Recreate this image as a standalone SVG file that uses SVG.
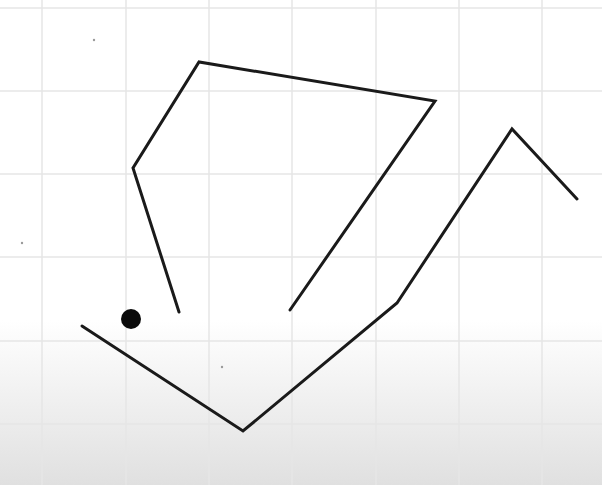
<svg xmlns="http://www.w3.org/2000/svg" width="602" height="485" viewBox="0 0 602 485">
  <defs>
    <linearGradient id="bg" x1="0" y1="0" x2="0" y2="485" gradientUnits="userSpaceOnUse">
      <stop offset="0" stop-color="#ffffff"/>
      <stop offset="0.66" stop-color="#ffffff"/>
      <stop offset="1" stop-color="#e0e0e0"/>
    </linearGradient>
  </defs>
  <style>
    .grid line { stroke: #e6e6e6; stroke-width: 1.5; }
    .stroke { fill: none; stroke: #1a1a1a; stroke-width: 3; stroke-linejoin: miter; stroke-linecap: round; }
    .speck { fill: #9a9a9a; }
  </style>
  <rect x="0" y="0" width="602" height="485" fill="url(#bg)"/>
  <g class="grid">
    <line x1="42" y1="0" x2="42" y2="485"/>
    <line x1="126" y1="0" x2="126" y2="485"/>
    <line x1="209" y1="0" x2="209" y2="485"/>
    <line x1="292" y1="0" x2="292" y2="485"/>
    <line x1="376" y1="0" x2="376" y2="485"/>
    <line x1="459" y1="0" x2="459" y2="485"/>
    <line x1="542" y1="0" x2="542" y2="485"/>
    <line x1="0" y1="8" x2="602" y2="8"/>
    <line x1="0" y1="91" x2="602" y2="91"/>
    <line x1="0" y1="174" x2="602" y2="174"/>
    <line x1="0" y1="257" x2="602" y2="257"/>
    <line x1="0" y1="341" x2="602" y2="341"/>
    <line x1="0" y1="424" x2="602" y2="424"/>
  </g>
  <g id="specks">
    <circle class="speck" cx="94" cy="40" r="1.2"/>
    <circle class="speck" cx="22" cy="243" r="1.2"/>
    <circle class="speck" cx="222" cy="367" r="1.2"/>
  </g>
  <g id="shapes">
    <polyline id="upper-line" class="stroke" points="179,312 133,168 199,62 435,101 290,310"/>
    <polyline id="lower-line" class="stroke" points="82,326 243,431 397,303 512,129 577,199"/>
    <circle id="dot" cx="131" cy="319" r="10" fill="#0a0a0a"/>
  </g>
</svg>
